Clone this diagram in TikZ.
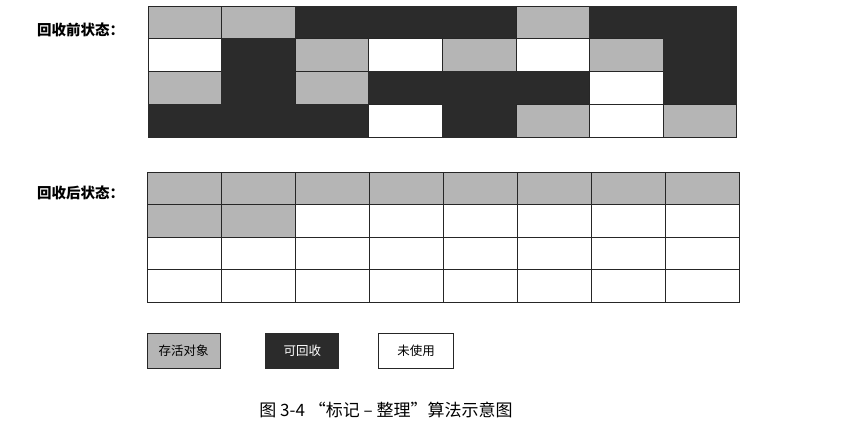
\documentclass[tikz,border=0pt]{standalone}
\usepackage{fontspec}
\newfontfamily\cjk{Noto Sans CJK SC}
\usetikzlibrary{positioning}
\definecolor{livegray}{HTML}{B5B5B5}
\definecolor{deadblack}{HTML}{2B2B2B}

\begin{document}
\begin{tikzpicture}[
    x=1pt, y=-1pt,
    cell/.style={rectangle, draw=black!85, line width=0.8pt, inner sep=0pt, minimum width=73.6pt, minimum height=32.75pt},
    G/.style={cell, fill=livegray},
    B/.style={cell, fill=deadblack, draw=deadblack},
    W/.style={cell, fill=white},
    legend/.style={minimum width=73pt, minimum height=35pt, font=\cjk\fontsize{12.5}{14}\selectfont},
    label/.style={anchor=west, font=\cjk\bfseries\fontsize{14.5}{16}\selectfont},
    every node/.style={inner sep=0pt}
]
    \useasboundingbox (0,0) rectangle (846,427);

    % state before collection
    \node[label] (before) at (37,30) {回收前状态：};
    \foreach \row [count=\r from 0] in {{G,G,B,B,B,G,B,B},{W,B,G,W,G,W,G,B},{G,B,G,B,B,B,W,B},{B,B,B,W,B,G,W,G}}
        \foreach \s [count=\c from 0] in \row
            \node[\s] (pre-\r-\c) at ({148+73.6*(\c+0.5)}, {6+32.75*(\r+0.5)}) {};

    % state after collection
    \node[label] (after) at (37,193) {回收后状态：};
    \foreach \row [count=\r from 0] in {{G,G,G,G,G,G,G,G},{G,G,W,W,W,W,W,W},{W,W,W,W,W,W,W,W},{W,W,W,W,W,W,W,W}}
        \foreach \s [count=\c from 0] in \row
            \node[\s, minimum width=74pt, minimum height=32.5pt] (post-\r-\c) at ({147+74*(\c+0.5)}, {172+32.5*(\r+0.5)}) {};

    % legend
    \node[G, legend] (keep) at (183.5,350.5) {存活对象};
    \node[B, legend, text=white, right=45pt of keep] (dead) {可回收};
    \node[W, legend, minimum width=75pt, right=39pt of dead] (free) {未使用};

    % caption
    \node[font=\cjk\fontsize{17}{19}\selectfont] (caption) at (386,410) {图 3-4 “标记 – 整理”算法示意图};

\end{tikzpicture}
\end{document}
